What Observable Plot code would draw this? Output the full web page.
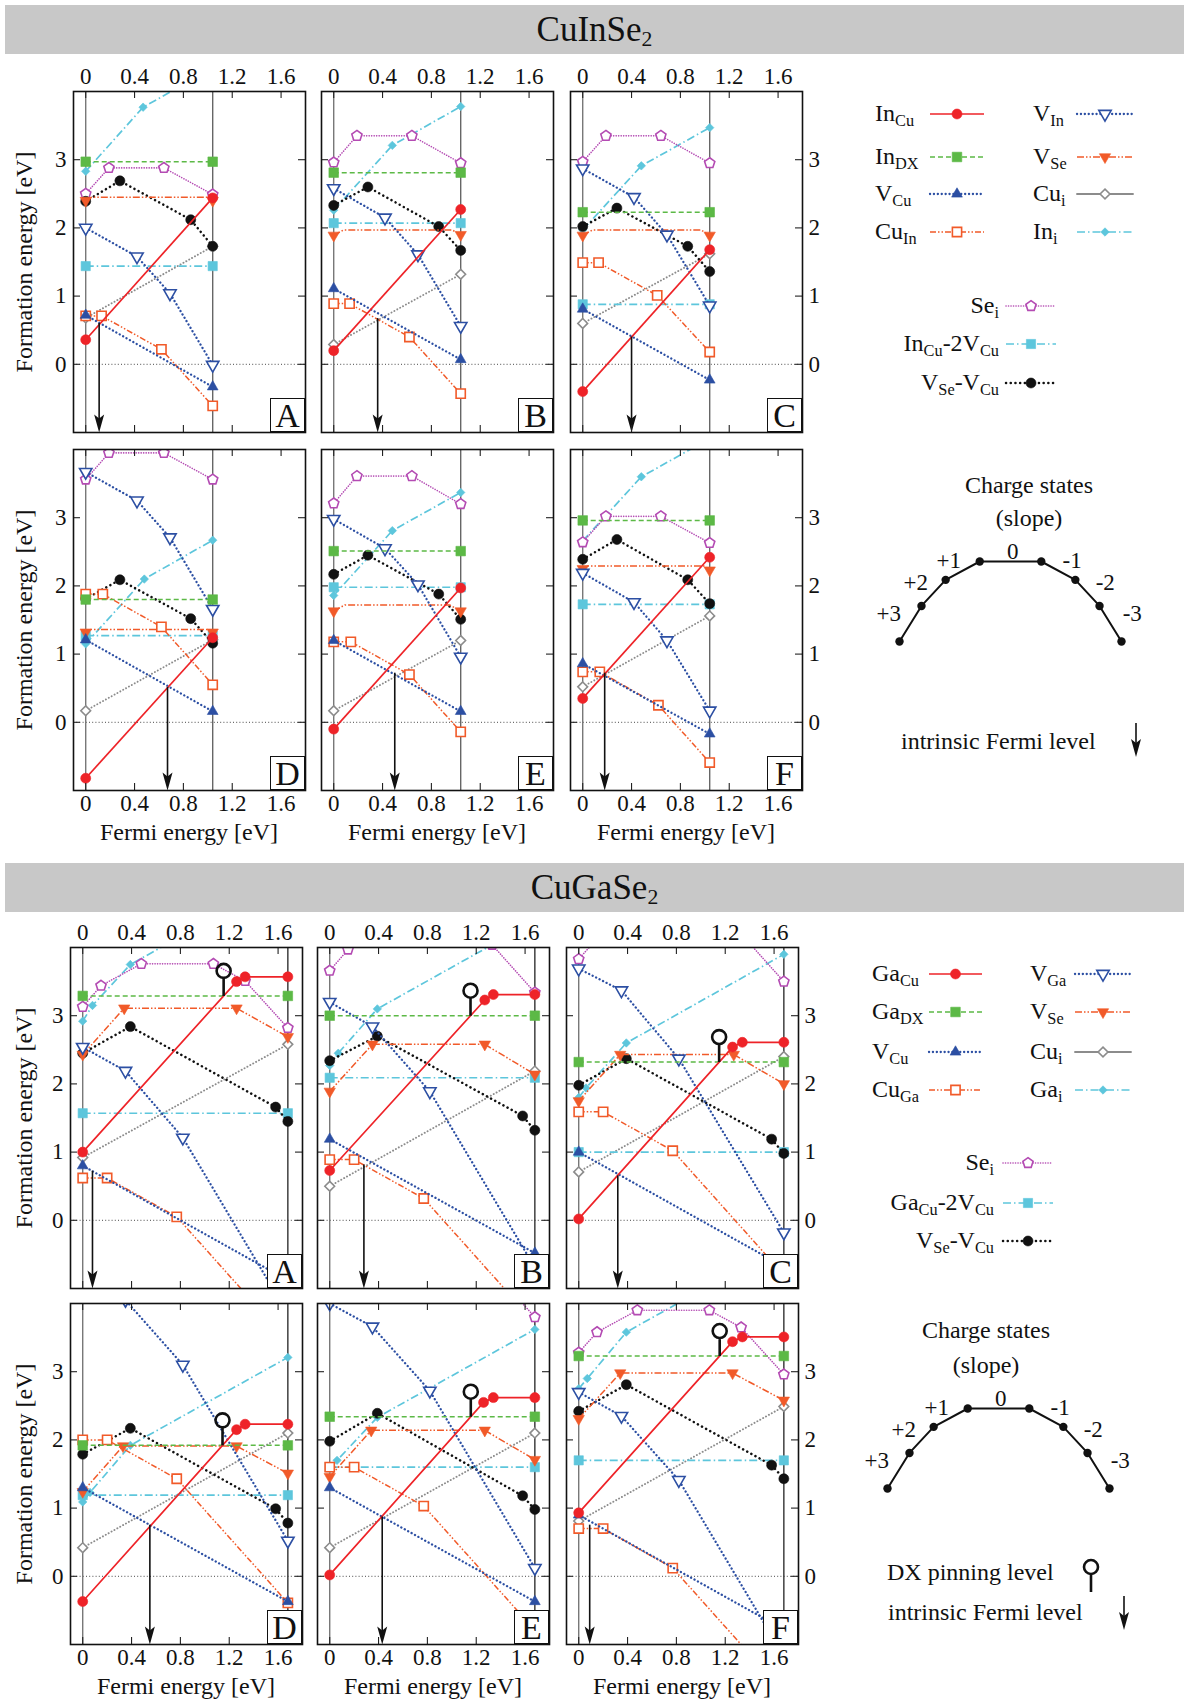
<!DOCTYPE html>
<html>
<head>
<meta charset="utf-8">
<script src="https://cdn.jsdelivr.net/npm/d3@7"></script>
<script src="https://cdn.jsdelivr.net/npm/@observablehq/plot@0.6"></script>
<style>
html,body{margin:0;padding:0;background:#fff;}
#page{position:relative;width:1189px;height:1703px;overflow:hidden;font-family:"Liberation Serif","Times New Roman",serif;color:#111;}
.banner{position:absolute;left:5px;width:1179px;height:49px;background:#c8c8c8;text-align:center;font-size:35px;line-height:49px;}
.banner sub{font-size:0.62em;vertical-align:-0.25em;line-height:0}
.t{position:absolute;white-space:nowrap;line-height:1;}
.t sub{font-size:0.68em;vertical-align:-0.32em;line-height:0;}
.box{position:absolute;width:35px;height:34px;border:1.6px solid #111;background:#fff;font-size:34px;line-height:34px;text-align:center;box-sizing:border-box;}
#page svg{position:absolute;}
</style>
</head>
<body>
<div id="page"></div>
<script>
const page = document.getElementById("page");

// ---------------- layout constants ----------------
const W = 232, H = 341, ML = 45, MR = 45, MT = 40, MB = 40;
const XD = [-0.1, 1.8], YD = [-1, 4];
const xTicks = [0, 0.4, 0.8, 1.2, 1.6];
const yTicks = [0, 1, 2, 3];
const panelLetters = ["A", "B", "C", "D", "E", "F"];
const gapIn = 1.04, gapGa = 1.68;

// ---------------- CuInSe2 data (panels A..F; flat lists x0,y0,x1,y1,...) ----------------
const In_InCu = [[0,0.36,1.04,2.44],[0,0.20,1.04,2.27],[0,-0.40,1.04,1.68],[0,-0.82,1.04,1.24],[0,-0.10,1.04,1.97],[0,0.35,1.04,2.42]];
const In_InDX = [2.97, 2.81, 2.23, 1.80, 2.51, 2.96];
const In_VCu = [[0,0.72,1.04,-0.33],[0,1.11,1.04,0.07],[0,0.81,1.04,-0.23],[0,1.21,1.04,0.16],[0,1.20,1.04,0.16],[0,0.86,1.04,-0.17]];
const In_CuIn = [
  [0,0.71,0.13,0.71,0.62,0.22,1.04,-0.61],
  [0,0.89,0.13,0.89,0.62,0.40,1.04,-0.43],
  [0,1.49,0.13,1.49,0.61,1.01,1.04,0.18],
  [0,1.88,0.14,1.88,0.62,1.40,1.04,0.55],
  [0,1.18,0.14,1.18,0.62,0.70,1.04,-0.14],
  [0,0.74,0.14,0.74,0.62,0.25,1.04,-0.59]];
const In_VIn = [
  [0,2.00,0.42,1.58,0.69,1.04,1.04,-0.01],
  [0,2.58,0.42,2.15,0.69,1.61,1.04,0.56],
  [0,2.87,0.42,2.45,0.69,1.90,1.04,0.86],
  [0,3.67,0.42,3.25,0.69,2.71,1.04,1.66],
  [0,2.98,0.42,2.55,0.69,2.02,1.04,0.96],
  [0,2.19,0.42,1.76,0.69,1.20,1.04,0.17]];
const In_VSe = [
  [0,2.40,0.05,2.45,0.99,2.45,1.04,2.40],
  [0,1.89,0.08,1.97,0.97,1.97,1.04,1.90],
  [0,1.89,0.08,1.97,0.97,1.97,1.04,1.89],
  [0,1.32,0.04,1.36,1.00,1.36,1.04,1.32],
  [0,1.63,0.09,1.72,0.95,1.72,1.04,1.63],
  [0,2.25,0.04,2.29,1.00,2.29,1.04,2.23]];
const In_Cui = [[0,0.68,1.04,1.73],[0,0.29,1.04,1.32],[0,0.60,1.04,1.62],[0,0.17,1.04,1.21],[0,0.17,1.04,1.20],[0,0.52,1.04,1.56]];
const In_Ini = [
  [0,2.83,0.47,3.77,1.04,4.34],
  [0,2.26,0.48,3.21,1.04,3.78],
  [0,1.97,0.48,2.91,1.04,3.47],
  [0,1.15,0.48,2.10,1.04,2.67],
  [0,1.86,0.48,2.81,1.04,3.37],
  [0,2.66,0.48,3.60,1.04,4.16]];
const In_Sei = [
  [0,2.50,0.19,2.88,0.64,2.88,1.04,2.49],
  [0,2.96,0.19,3.35,0.64,3.35,1.04,2.95],
  [0,2.97,0.19,3.35,0.64,3.35,1.04,2.95],
  [0,3.56,0.19,3.95,0.64,3.95,1.04,3.56],
  [0,3.21,0.19,3.61,0.64,3.61,1.04,3.20],
  [0,2.64,0.19,3.02,0.64,3.02,1.04,2.63]];
const In_InCu2VCu = [1.44, 2.07, 0.88, 1.27, 1.98, 1.73];
const In_VSeVCu = [
  [0,2.39,0.28,2.69,0.86,2.12,1.04,1.73],
  [0,2.33,0.28,2.60,0.86,2.02,1.04,1.67],
  [0,2.02,0.28,2.29,0.86,1.73,1.04,1.36],
  [0,1.81,0.28,2.09,0.86,1.52,1.04,1.16],
  [0,2.17,0.28,2.45,0.86,1.88,1.04,1.51],
  [0,2.39,0.28,2.68,0.86,2.09,1.04,1.74]];
const In_fermi = [[0.11,0.60],[0.36,0.67],[0.40,0.40],[0.67,0.51],[0.50,0.72],[0.18,0.72]];

// ---------------- CuGaSe2 data ----------------
const Ga_GaCu = [
  [0,1.00,1.26,3.50,1.33,3.57,1.68,3.57],
  [0,0.73,1.27,3.23,1.34,3.31,1.68,3.31],
  [0,0.02,1.26,2.54,1.34,2.61,1.68,2.61],
  [0,-0.37,1.26,2.15,1.33,2.23,1.68,2.23],
  [0,0.02,1.26,2.55,1.34,2.62,1.68,2.62],
  [0,0.93,1.26,3.44,1.34,3.51,1.68,3.51]];
const Ga_GaDX = [3.29, 3.00, 2.32, 1.92, 2.34, 3.23];
const Ga_VCu = [[0,0.80,1.68,-0.88],[0,1.19,1.68,-0.48],[0,1.00,1.68,-0.68],[0,1.30,1.68,-0.37],[0,1.30,1.68,-0.37],[0,0.90,1.68,-0.78]];
const Ga_CuGa = [
  [0,0.62,0.20,0.62,0.77,0.05,1.68,-1.77],
  [0,0.89,0.20,0.89,0.77,0.32,1.68,-1.50],
  [0,1.59,0.20,1.59,0.77,1.02,1.68,-0.80],
  [0,2.00,0.20,2.00,0.77,1.43,1.68,-0.39],
  [0,1.60,0.20,1.60,0.77,1.03,1.68,-0.79],
  [0,0.70,0.20,0.70,0.77,0.12,1.68,-1.70]];
const Ga_VGa = [
  [0,2.54,0.35,2.19,0.82,1.21,1.68,-1.37],
  [0,3.20,0.35,2.84,0.82,1.89,1.68,-0.69],
  [0,3.69,0.35,3.37,0.82,2.37,1.68,-0.18],
  [0,4.40,0.35,4.05,0.82,3.10,1.68,0.52],
  [0,4.00,0.35,3.66,0.82,2.72,1.68,0.12],
  [0,2.70,0.35,2.35,0.82,1.41,1.68,-1.17]];
const Ga_VSe = [
  [0,2.43,0.34,3.11,1.26,3.11,1.68,2.69],
  [0,1.89,0.35,2.58,1.27,2.58,1.68,2.14],
  [0,1.75,0.34,2.43,1.27,2.43,1.68,2.00],
  [0,1.24,0.33,1.91,1.26,1.91,1.68,1.51],
  [0,1.46,0.34,2.14,1.27,2.14,1.68,1.71],
  [0,2.31,0.34,2.98,1.26,2.98,1.68,2.58]];
const Ga_Cui = [[0,0.92,1.68,2.58],[0,0.50,1.68,2.19],[0,0.71,1.68,2.40],[0,0.42,1.68,2.10],[0,0.42,1.68,2.10],[0,0.81,1.68,2.49]];
const Ga_Gai = [
  [0,2.92,0.08,3.15,0.39,3.75,1.68,5.04],
  [0,2.27,0.07,2.45,0.39,3.10,1.68,4.39],
  [0,1.80,0.06,1.94,0.39,2.60,1.68,3.90],
  [0,1.09,0.06,1.23,0.39,1.92,1.68,3.21],
  [0,1.58,0.06,1.70,0.39,2.33,1.68,3.62],
  [0,2.75,0.07,2.90,0.39,3.58,1.68,4.87]];
const Ga_Sei = [
  [0,3.13,0.15,3.44,0.48,3.76,1.07,3.76,1.33,3.51,1.68,2.82],
  [0,3.66,0.15,3.97,0.48,4.30,1.07,4.30,1.33,4.04,1.68,3.34],
  [0,3.83,0.15,4.13,0.48,4.46,1.07,4.46,1.33,4.20,1.68,3.50],
  [],
  [1.33,4.50,1.68,3.80],
  [0,3.28,0.15,3.58,0.48,3.90,1.07,3.90,1.33,3.65,1.68,2.96]];
const Ga_GaCu2VCu = [1.57, 2.09, 1.00, 1.19, 1.60, 1.70];
const Ga_VSeVCu = [
  [0,2.45,0.39,2.84,1.58,1.66,1.68,1.45],
  [0,2.34,0.39,2.70,1.58,1.53,1.68,1.32],
  [0,1.98,0.39,2.37,1.58,1.19,1.68,0.98],
  [0,1.79,0.39,2.17,1.58,0.99,1.68,0.78],
  [0,1.98,0.39,2.39,1.58,1.18,1.68,0.98],
  [0,2.42,0.39,2.81,1.58,1.63,1.68,1.43]];
const Ga_fermi = [[0.08,0.72],[0.28,0.81],[0.32,0.65],[0.55,0.75],[0.43,0.87],[0.09,0.75]];

// ---------------- legend / schematic text ----------------
const seriesKeys = ["XCu","DX","VCu","CuX","VX","VSe","Cui","Xi","Sei","Cplx","VSeVCu"];
const labelsIn = ["In<sub>Cu</sub>","In<sub>DX</sub>","V<sub>Cu</sub>","Cu<sub>In</sub>","V<sub>In</sub>","V<sub>Se</sub>","Cu<sub>i</sub>","In<sub>i</sub>","Se<sub>i</sub>","In<sub>Cu</sub>-2V<sub>Cu</sub>","V<sub>Se</sub>-V<sub>Cu</sub>"];
const labelsGa = ["Ga<sub>Cu</sub>","Ga<sub>DX</sub>","V<sub>Cu</sub>","Cu<sub>Ga</sub>","V<sub>Ga</sub>","V<sub>Se</sub>","Cu<sub>i</sub>","Ga<sub>i</sub>","Se<sub>i</sub>","Ga<sub>Cu</sub>-2V<sub>Cu</sub>","V<sub>Se</sub>-V<sub>Cu</sub>"];
const csSlopes = [3, 2, 1, 0, -1, -2, -3];
const csWidths = [1.0, 1.1, 1.55, 2.8, 1.55, 1.1, 1.0];
const csLabels = ["+3", "+2", "+1", "0", "-1", "-2", "-3"];

// ---------------- symbols ----------------
const pentagon = {draw(ctx, size) {
  const R = Math.sqrt(size / Math.PI) * 1.12;
  for (let k = 0; k < 5; k++) {
    const a = -Math.PI / 2 + k * 2 * Math.PI / 5;
    const x = R * Math.cos(a), y = R * Math.sin(a);
    k ? ctx.lineTo(x, y) : ctx.moveTo(x, y);
  }
  ctx.closePath();
}};
const triDown = {draw(ctx, size) {
  const y = -Math.sqrt(size / (Math.sqrt(3) * 3));
  ctx.moveTo(0, -2 * y); ctx.lineTo(-Math.sqrt(3) * y, y); ctx.lineTo(Math.sqrt(3) * y, y); ctx.closePath();
}};
const arrowHead = {draw(ctx) {
  ctx.moveTo(0, 0); ctx.lineTo(-5, -18); ctx.lineTo(0, -14); ctx.lineTo(5, -18); ctx.closePath();
}};
const dxPin = {draw(ctx) {
  ctx.moveTo(0, 0); ctx.lineTo(0, -18); ctx.moveTo(7, -25); ctx.arc(0, -25, 7, 0, 2 * Math.PI);
}};
const symbolMap = {circle: d3.symbolCircle, square: d3.symbolSquare, triangle: d3.symbolTriangle, diamond2: d3.symbolDiamond2};

const RED = "#ee2328", GREEN = "#5cb946", BLUE = "#2c4fa3", ORANGE = "#f15a29", GRAY = "#8c8c8c", CYAN = "#5dc6dc", MAGENTA = "#b44bb3";
const styles = {
  XCu:   {color: RED, dash: null, width: 1.7, symbol: "circle", fill: true, r: 5},
  DX:    {color: GREEN, dash: "5,3", width: 1.5, symbol: "square", fill: true, r: 5.4},
  VCu:   {color: BLUE, dash: "0.1,3.8", width: 2.3, cap: "round", symbol: "triangle", fill: true, r: 4.0},
  CuX:   {color: ORANGE, dash: "6,2,1.5,2,1.5,2", width: 1.5, symbol: "square", fill: false, r: 5.2},
  VX:    {color: BLUE, dash: "0.1,3.8", width: 2.3, cap: "round", symbol: triDown, fill: false, r: 4.6},
  VSe:   {color: ORANGE, dash: "7,2,1.5,2,1.5,2", width: 1.5, symbol: triDown, fill: true, r: 4.2},
  Cui:   {color: GRAY, dash: "0.1,3.2", width: 1.9, cap: "round", symbol: "diamond2", fill: false, r: 4.4},
  Xi:    {color: CYAN, dash: "8,3,1.5,3", width: 1.7, symbol: "diamond2", fill: true, r: 3.8},
  Sei:   {color: MAGENTA, dash: "0.1,2.4", width: 1.6, cap: "round", symbol: pentagon, fill: false, r: 4.8},
  Cplx:  {color: CYAN, dash: "8,3,1.5,3", width: 1.7, symbol: "square", fill: true, r: 5.2},
  VSeVCu:{color: "#111", dash: "0.1,4.6", width: 2.5, cap: "round", symbol: "circle", fill: true, r: 5}
};
const drawOrder = ["Cui","Xi","Sei","Cplx","VSeVCu","VSe","VX","CuX","VCu","DX","XCu"];

const flatLevel = (levels, eg) => levels.map(v => [0, v, eg, v]);
const seriesIn = {XCu: In_InCu, DX: flatLevel(In_InDX, gapIn), VCu: In_VCu, CuX: In_CuIn, VX: In_VIn, VSe: In_VSe,
  Cui: In_Cui, Xi: In_Ini, Sei: In_Sei, Cplx: flatLevel(In_InCu2VCu, gapIn), VSeVCu: In_VSeVCu};
const seriesGa = {XCu: Ga_GaCu, DX: flatLevel(Ga_GaDX, gapGa), VCu: Ga_VCu, CuX: Ga_CuGa, VX: Ga_VGa, VSe: Ga_VSe,
  Cui: Ga_Cui, Xi: Ga_Gai, Sei: Ga_Sei, Cplx: flatLevel(Ga_GaCu2VCu, gapGa), VSeVCu: Ga_VSeVCu};

const toPts = flat => { const p = []; for (let k = 0; k + 1 < flat.length; k += 2) p.push({x: flat[k], y: flat[k + 1]}); return p; };
const fmt = d => d === 0 ? "0" : d.toFixed(1);

function text(html, x, y, {size = 24, anchor = "start", rotate = 0} = {}) {
  const d = document.createElement("div");
  d.className = "t"; d.innerHTML = html;
  d.style.fontSize = size + "px"; d.style.left = x + "px"; d.style.top = y + "px";
  const tx = anchor === "middle" ? "-50%" : anchor === "end" ? "-100%" : "0";
  d.style.transform = `translate(${tx},-50%)` + (rotate ? ` rotate(${rotate}deg)` : "");
  page.appendChild(d);
}

function makePanel(mat, i, frameLeft, frameTop) {
  const eg = mat === "In" ? gapIn : gapGa;
  const S = mat === "In" ? seriesIn : seriesGa;
  const fermi = (mat === "In" ? In_fermi : Ga_fermi)[i];
  const col = i % 3, row = Math.floor(i / 3);
  const marks = [
    Plot.ruleY([0], {stroke: "#333", strokeWidth: 0.9, strokeDasharray: "1,2.2"}),
    Plot.ruleX([0], {stroke: "#777", strokeWidth: 1.4}),
    Plot.ruleX([eg], {stroke: mat === "In" ? "#666" : "#333", strokeWidth: 1.4})
  ];
  for (const key of drawOrder) {
    const flat = S[key][i];
    if (!flat || flat.length < 4) continue;
    const pts = toPts(flat);
    const s = styles[key];
    marks.push(Plot.line(pts, {x: "x", y: "y", stroke: s.color, strokeWidth: s.width,
      strokeDasharray: s.dash, strokeLinecap: s.cap || "butt", clip: true}));
    const mpts = (key === "VSe" && mat === "In") ? [pts[0], pts[pts.length - 1]] : pts;
    marks.push(Plot.dot(mpts, {x: "x", y: "y", symbol: s.symbol, r: s.r,
      fill: s.fill ? s.color : "white", stroke: s.color, strokeWidth: s.fill ? 0.6 : 1.6, clip: true}));
  }
  if (mat === "Ga") {
    const p = toPts(S.XCu[i]);
    const lvl = Ga_GaDX[i];
    const xPin = p[0].x + (lvl - p[0].y) * (p[1].x - p[0].x) / (p[1].y - p[0].y);
    marks.push(Plot.dot([{x: xPin, y: lvl}], {x: "x", y: "y", symbol: dxPin, r: 5, fill: "none", stroke: "#111", strokeWidth: 2.6}));
  }
  // intrinsic Fermi level arrow
  marks.push(Plot.ruleX([fermi], {x: d => d[0], y1: d => d[1], y2: YD[0], stroke: "#111", strokeWidth: 1.6, insetBottom: 12}));
  marks.push(Plot.dot([fermi], {x: d => d[0], y: YD[0], symbol: arrowHead, r: 5, fill: "#111", stroke: "none"}));
  // inner ticks
  marks.push(Plot.ruleX(xTicks, {x: d => d, insetBottom: H - 7, stroke: "#222", strokeWidth: 1.1}));
  marks.push(Plot.ruleX(xTicks, {x: d => d, insetTop: H - 7, stroke: "#222", strokeWidth: 1.1}));
  marks.push(Plot.ruleY(yTicks, {y: d => d, insetRight: W - 7, stroke: "#222", strokeWidth: 1.1}));
  marks.push(Plot.ruleY(yTicks, {y: d => d, insetLeft: W - 7, stroke: "#222", strokeWidth: 1.1}));
  marks.push(Plot.frame({stroke: "#111", strokeWidth: 1.6}));
  const tf = {fontSize: 23, fontFamily: "Liberation Serif", fill: "#111", lineAnchor: "middle"};
  if (row === 0) marks.push(Plot.text(xTicks, {x: d => d, text: fmt, frameAnchor: "top", dy: -15, ...tf}));
  if (row === 1) marks.push(Plot.text(xTicks, {x: d => d, text: fmt, frameAnchor: "bottom", dy: 13, ...tf}));
  if (col === 0) marks.push(Plot.text(yTicks, {y: d => d, text: d => String(d), frameAnchor: "left", dx: -7, textAnchor: "end", ...tf}));
  if (col === 2) marks.push(Plot.text(yTicks, {y: d => d, text: d => String(d), frameAnchor: "right", dx: 6, textAnchor: "start", ...tf}));

  const svg = Plot.plot({
    width: W + ML + MR, height: H + MT + MB,
    marginLeft: ML, marginRight: MR, marginTop: MT, marginBottom: MB,
    x: {domain: XD, axis: null}, y: {domain: YD, axis: null},
    style: {background: "transparent", overflow: "visible", fontFamily: "Liberation Serif"},
    marks
  });
  svg.style.left = (frameLeft - ML) + "px";
  svg.style.top = (frameTop - MT) + "px";
  page.appendChild(svg);

  const box = document.createElement("div");
  box.className = "box"; box.textContent = panelLetters[i];
  box.style.left = (frameLeft + W - 35) + "px"; box.style.top = (frameTop + H - 34) + "px";
  page.appendChild(box);

  if (col === 0) text("Formation energy [eV]", 24, frameTop + H / 2, {size: 24, anchor: "middle", rotate: -90});
  if (row === 1) text("Fermi energy [eV]", frameLeft + W / 2, frameTop + H + 42, {size: 24, anchor: "middle"});
}

function banner(html, top) {
  const b = document.createElement("div");
  b.className = "banner"; b.style.top = top + "px"; b.innerHTML = html;
  page.appendChild(b);
}

banner("CuInSe<sub>2</sub>", 5);
banner("CuGaSe<sub>2</sub>", 863);

const inLefts = [73, 321, 570], inTops = [91, 449];
const gaLefts = [70, 317, 566], gaTops = [947, 1303];
for (let i = 0; i < 6; i++) {
  makePanel("In", i, inLefts[i % 3], inTops[Math.floor(i / 3)]);
  makePanel("Ga", i, gaLefts[i % 3], gaTops[Math.floor(i / 3)]);
}

// ---------------- legends ----------------
const lg = d3.select(page).append("svg").attr("width", 1189).attr("height", 1703)
  .style("left", "0px").style("top", "0px").style("pointer-events", "none");

function legendSample(key, x1, x2, y) {
  const s = styles[key];
  lg.append("line").attr("x1", x1).attr("x2", x2).attr("y1", y).attr("y2", y)
    .attr("stroke", s.color).attr("stroke-width", s.width)
    .attr("stroke-dasharray", key === "Cui" ? null : s.dash).attr("stroke-linecap", s.cap || "butt");
  const sym = typeof s.symbol === "string" ? symbolMap[s.symbol] : s.symbol;
  lg.append("path").attr("d", d3.symbol(sym, Math.PI * s.r * s.r)())
    .attr("transform", `translate(${(x1 + x2) / 2},${y})`)
    .attr("fill", s.fill ? s.color : "white").attr("stroke", s.color).attr("stroke-width", s.fill ? 0.6 : 1.6);
}

function legendBlock(labels, cfg) {
  seriesKeys.forEach((key, k) => {
    let lx, sx, y, anchor = "start";
    if (k < 8) { const c = k < 4 ? 0 : 1; y = cfg.rows[k % 4]; lx = cfg.labelX[c]; sx = cfg.sample[c]; }
    else { y = cfg.rows2[k - 8]; lx = cfg.labelEnd; anchor = "end"; sx = cfg.sample2; }
    text(labels[k], lx, y, {size: 24, anchor});
    legendSample(key, sx[0], sx[1], y + 1);
  });
}
legendBlock(labelsIn, {rows: [113, 156, 193, 231], labelX: [875, 1033], sample: [[930, 984], [1077, 1133]],
  rows2: [305, 343, 382], labelEnd: 999, sample2: [1006, 1056]});
legendBlock(labelsGa, {rows: [973, 1011, 1051, 1089], labelX: [872, 1030], sample: [[929, 982], [1075, 1131]],
  rows2: [1162, 1202, 1240], labelEnd: 994, sample2: [1003, 1053]});

// charge-state schematic (slope = charge)
function chargeDiagram(left, top) {
  const pts = [{x: 0, y: 0}];
  csSlopes.forEach((s, k) => { const p = pts[pts.length - 1]; pts.push({x: p.x + csWidths[k], y: p.y + s * csWidths[k]}); });
  const labs = csSlopes.map((s, k) => ({
    x: (pts[k].x + pts[k + 1].x) / 2 - Math.sign(s) * (0.45 + 0.18 * Math.abs(s)) + (s === 0 ? 0.1 : 0),
    y: (pts[k].y + pts[k + 1].y) / 2, t: csLabels[k]}));
  const xmax = pts[pts.length - 1].x, ymax = d3.max(pts, d => d.y);
  const svg = Plot.plot({
    width: 222 + 80, height: 80 + 60, marginLeft: 40, marginRight: 40, marginTop: 40, marginBottom: 20,
    x: {domain: [0, xmax], axis: null}, y: {domain: [0, ymax], axis: null},
    style: {background: "transparent", overflow: "visible"},
    marks: [
      Plot.line(pts, {x: "x", y: "y", stroke: "#111", strokeWidth: 2}),
      Plot.dot(pts, {x: "x", y: "y", r: 4.2, fill: "#111"}),
      Plot.text(labs, {x: "x", y: "y", text: "t", dy: -10, fontSize: 23, fontFamily: "Liberation Serif", fill: "#111"})
    ]
  });
  svg.style.left = left + "px"; svg.style.top = top + "px";
  page.appendChild(svg);
}
chargeDiagram(859, 521);
chargeDiagram(847, 1368);
text("Charge states", 1029, 485, {size: 24, anchor: "middle"});
text("(slope)", 1029, 518, {size: 24, anchor: "middle"});
text("Charge states", 986, 1330, {size: 24, anchor: "middle"});
text("(slope)", 986, 1365, {size: 24, anchor: "middle"});

function legendArrow(x, y1, y2) {
  lg.append("line").attr("x1", x).attr("x2", x).attr("y1", y1).attr("y2", y2 - 12).attr("stroke", "#111").attr("stroke-width", 1.6);
  lg.append("path").attr("d", d3.symbol(arrowHead)()).attr("transform", `translate(${x},${y2})`).attr("fill", "#111");
}
text("intrinsic Fermi level", 901, 741, {size: 24});
legendArrow(1136, 723, 757);
text("DX pinning level", 887, 1572, {size: 24});
lg.append("path").attr("d", d3.symbol(dxPin)()).attr("transform", "translate(1091,1592)")
  .attr("fill", "none").attr("stroke", "#111").attr("stroke-width", 2.6);
text("intrinsic Fermi level", 888, 1612, {size: 24});
legendArrow(1124, 1596, 1630);
</script>
</body>
</html>
